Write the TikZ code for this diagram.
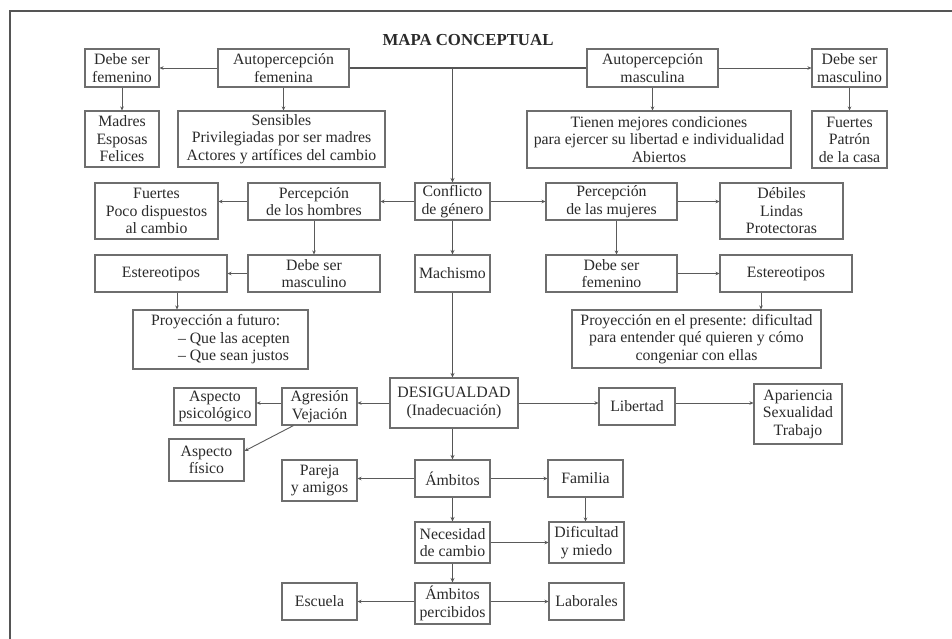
\documentclass[tikz,border=0pt]{standalone}
\usepackage{fontspec}
\setmainfont{Liberation Serif}
\usetikzlibrary{arrows.meta}
\definecolor{boxgray}{HTML}{6E6E6E}
\definecolor{linegray}{HTML}{5A5A5A}
\definecolor{txtgray}{HTML}{2A2A2A}
\definecolor{framegray}{HTML}{555555}
\tikzset{
  box/.style={draw=boxgray, line width=1.1pt, rectangle, inner sep=0pt, align=center,
    text=txtgray, font=\fontsize{15.8}{17.5}\selectfont},
  arr/.style={draw=linegray, line width=0.9pt, -{Stealth[length=4pt,width=3.6pt]}},
  trunkline/.style={draw=framegray, line width=2pt},
  trunkarr/.style={draw=framegray, line width=1.8pt, -{Stealth[length=4.5pt,width=4pt]}},
}
\begin{document}
\begin{tikzpicture}[x=1pt,y=-1pt]
\useasboundingbox[fill=white] (0,0) rectangle (952,638);
% frame (left and top edges)
\draw[framegray, line width=2.4pt] (10,640) -- (10,11) -- (953,11);
% title
\node[text=txtgray, font=\fontsize{16.8}{19}\selectfont\bfseries] (title) at (468,40) {MAPA CONCEPTUAL};

% top row
\node[box, minimum width=131pt, minimum height=38pt] (autofem) at (283.5,68) {Autopercepción\\femenina};
\node[box, minimum width=74pt, minimum height=38pt] (debefem) at (122,68) {Debe ser\\femenino};
\node[box, minimum width=74pt, minimum height=56pt] (madres) at (122,139) {Madres\\Esposas\\Felices};
\node[box, minimum width=207pt, minimum height=56pt] (sensibles) at (281.5,139) {Sensibles\\Privilegiadas por ser madres\\Actores y artífices del cambio};
\node[box, minimum width=131pt, minimum height=38pt] (automasc) at (652.5,68) {Autopercepción\\masculina};
\node[box, minimum width=75pt, minimum height=38pt] (debemasc) at (849.5,68) {Debe ser\\masculino};
\node[box, minimum width=264pt, minimum height=57pt] (tienen) at (659,139.5) {Tienen mejores condiciones\\para ejercer su libertad e individualidad\\Abiertos};
\node[box, minimum width=75pt, minimum height=57pt] (fuertesp) at (849.5,139.5) {Fuertes\\Patrón\\de la casa};

% second row
\node[box, minimum width=123pt, minimum height=56pt] (fuertes) at (156.5,211) {Fuertes\\Poco dispuestos\\al cambio};
\node[box, minimum width=132pt, minimum height=37pt] (perch) at (314,201.5) {Percepción\\de los hombres};
\node[box, minimum width=75pt, minimum height=37pt] (conflicto) at (452.5,201.5) {Conflicto\\de género};
\node[box, minimum width=131pt, minimum height=37pt] (percm) at (611.5,201.5) {Percepción\\de las mujeres};
\node[box, minimum width=123pt, minimum height=56pt] (debiles) at (781.5,211) {Débiles\\Lindas\\Protectoras};

% third row
\node[box, minimum width=132pt, minimum height=37pt] (ester1) at (161,273.5) {Estereotipos};
\node[box, minimum width=132pt, minimum height=37pt] (debemasc2) at (314,273.5) {Debe ser\\masculino};
\node[box, minimum width=75pt, minimum height=37pt] (machismo) at (452.5,273.5) {Machismo};
\node[box, minimum width=131pt, minimum height=37pt] (debefem2) at (611.5,273.5) {Debe ser\\femenino};
\node[box, minimum width=132pt, minimum height=37pt] (ester2) at (786,273.5) {Estereotipos};

% fourth row
\node[box, minimum width=175pt, minimum height=59pt, align=left] (proyf) at (220.5,339.5) {Proyección a futuro:\\\hspace*{1.7em}– Que las acepten\\\hspace*{1.7em}– Que sean justos};
\node[box, minimum width=249pt, minimum height=58pt] (proyp) at (696.5,339) {Proyección en el presente: dificultad\\para entender qué quieren y cómo\\congeniar con ellas};

% fifth row
\node[box, minimum width=128pt, minimum height=50pt] (desig) at (454,403) {DESIGUALDAD\\(Inadecuación)};
\node[box, minimum width=75pt, minimum height=37pt] (agresion) at (319.5,406.5) {Agresión\\Vejación};
\node[box, minimum width=82pt, minimum height=37pt] (aspsic) at (215,406.5) {Aspecto\\psicológico};
\node[box, minimum width=75pt, minimum height=42pt] (asfis) at (206.5,460) {Aspecto\\físico};
\node[box, minimum width=76pt, minimum height=37pt] (libertad) at (637,406.5) {Libertad};
\node[box, minimum width=88pt, minimum height=60pt] (apariencia) at (798,414) {Apariencia\\Sexualidad\\Trabajo};

% sixth row
\node[box, minimum width=75pt, minimum height=41pt] (pareja) at (319.5,480.5) {Pareja\\y amigos};
\node[box, minimum width=75pt, minimum height=37pt] (ambitos) at (452.5,478.5) {Ámbitos};
\node[box, minimum width=75pt, minimum height=37pt] (familia) at (585.5,478.5) {Familia};

% seventh row
\node[box, minimum width=75pt, minimum height=41pt] (necesidad) at (452.5,542.5) {Necesidad\\de cambio};
\node[box, minimum width=75pt, minimum height=41pt] (dificultad) at (586.5,542.5) {Dificultad\\y miedo};

% eighth row
\node[box, minimum width=75pt, minimum height=37pt] (escuela) at (319.5,601.5) {Escuela};
\node[box, minimum width=75pt, minimum height=41pt] (ambper) at (452.5,603.5) {Ámbitos\\percibidos};
\node[box, minimum width=75pt, minimum height=37pt] (laborales) at (586.5,601.5) {Laborales};

% trunk
\draw[trunkline] (autofem.east) -- (automasc.west);
\coordinate (tj) at (conflicto.north |- autofem.east);
\draw[trunkarr] (tj) -- (conflicto.north);
\draw[trunkarr] (conflicto.south) -- (machismo.north);
\draw[trunkarr] (machismo.south) -- (desig.north -| machismo.south);
\draw[trunkarr] (desig.south -| ambitos.north) -- (ambitos.north);
\draw[trunkarr] (ambitos.south) -- (necesidad.north);
\draw[trunkarr] (necesidad.south) -- (ambper.north);

% top connectors
\draw[arr] (autofem.west) -- (debefem.east);
\draw[arr] (debefem.south) -- (madres.north);
\draw[arr] (autofem.south) -- (autofem.south |- sensibles.north);
\draw[arr] (automasc.east) -- (debemasc.west);
\draw[arr] (debemasc.south) -- (fuertesp.north);
\draw[arr] (automasc.south) -- (automasc.south |- tienen.north);

% second row connectors
\draw[arr] (conflicto.west) -- (perch.east);
\draw[arr] (perch.west) -- (perch.west -| fuertes.east);
\draw[arr] (conflicto.east) -- (percm.west);
\draw[arr] (percm.east) -- (percm.east -| debiles.west);
\draw[arr] (perch.south) -- (debemasc2.north);
\draw[arr] ([xshift=5pt]percm.south) -- ([xshift=5pt]debefem2.north);
\draw[arr] (debemasc2.west) -- (ester1.east);
\draw[arr] (debefem2.east) -- (ester2.west);
\draw[arr] ([xshift=16pt]ester1.south) -- ([xshift=16pt]ester1.south |- proyf.north);
\draw[arr] ([xshift=-25pt]ester2.south) -- ([xshift=-25pt]ester2.south |- proyp.north);

% fifth row connectors
\draw[arr] (desig.west) -- (desig.west -| agresion.east);
\draw[arr] (agresion.west |- desig.west) -- (aspsic.east |- desig.west);
\draw[arr] ([xshift=-26pt]agresion.south) -- ([yshift=9pt]asfis.east);
\draw[arr] (desig.east) -- (desig.east -| libertad.west);
\draw[arr] (libertad.east |- desig.east) -- (apariencia.west |- desig.east);

% lower connectors
\draw[arr] (ambitos.west) -- (ambitos.west -| pareja.east);
\draw[arr] (ambitos.east) -- (familia.west);
\draw[arr] (familia.south) -- (familia.south |- dificultad.north);
\draw[arr] (necesidad.east) -- (dificultad.west);
\draw[arr] (ambper.west |- escuela) -- (escuela.east);
\draw[arr] (ambper.east |- laborales) -- (laborales.west);
\end{tikzpicture}
\end{document}
